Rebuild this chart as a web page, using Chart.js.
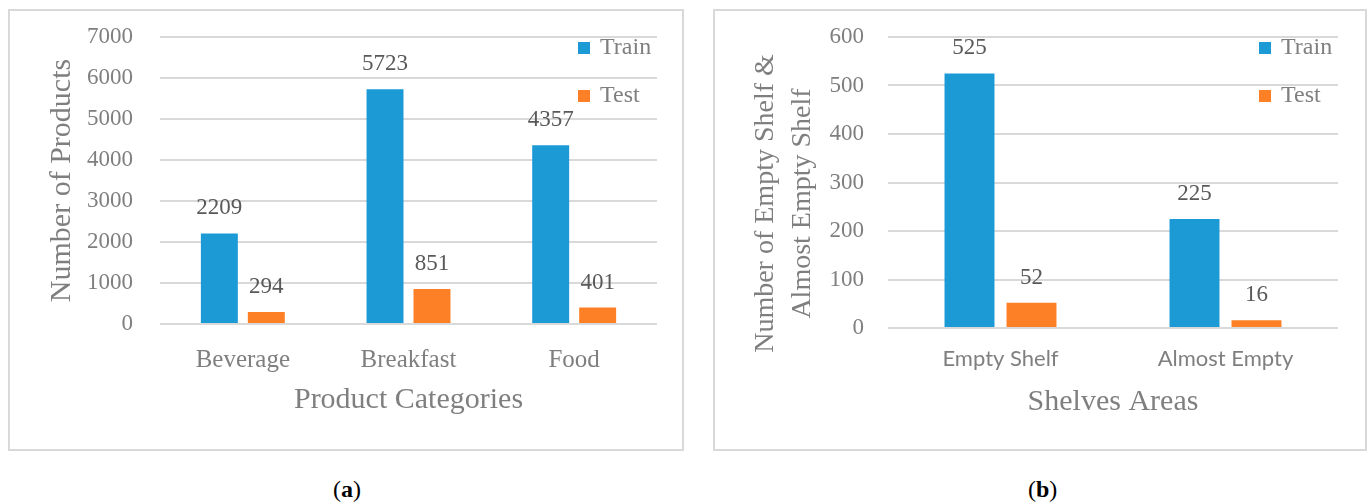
<!DOCTYPE html>
<html>
<head>
<meta charset="utf-8">
<script src="https://cdn.jsdelivr.net/npm/chart.js@4"></script>
<style>
body{margin:0;background:#fff;width:1368px;height:504px;position:relative;overflow:hidden;font-family:"Liberation Serif",serif;}
.box{position:absolute;top:9px;height:442px;border:2px solid #d9d9d9;box-sizing:border-box;}
.cap{position:absolute;top:476px;font-size:24px;color:#000;}
</style>
</head>
<body>
<div class="box" style="left:8px;width:676px"><canvas id="c1" width="672" height="438"></canvas></div>
<div class="box" style="left:713px;width:654px"><canvas id="c2" width="650" height="438"></canvas></div>
<div class="cap" style="left:333px">(<b>a</b>)</div>
<div class="cap" style="left:1028px">(<b>b</b>)</div>
<script>
// products per category
let productCats=["Beverage","Breakfast","Food"];
let productTrain=[2209,5723,4357];
let productTest=[294,851,401];
let productTicks=[0,1000,2000,3000,4000,5000,6000,7000];

// empty shelf counts per area
let shelfCats=["Empty Shelf","Almost Empty"];
let shelfTrain=[525,225];
let shelfTest=[52,16];
let shelfTicks=[0,100,200,300,400,500,600];

const BLUE="#1b9ad6";
const ORANGE="#fd7f26";
const GREY="#7f7f7f";
const SERIF="'Liberation Serif'";

// value printed over every bar
const barLabels={
id:"barLabels",
afterDatasetsDraw(chart){
const ctx=chart.ctx;
ctx.save();
ctx.font="23px "+SERIF;
ctx.fillStyle="#595959";
ctx.textAlign="center";
ctx.textBaseline="middle";
chart.data.datasets.forEach((ds,i)=>{
chart.getDatasetMeta(i).data.forEach((bar,j)=>{
ctx.fillText(ds.data[j],bar.x,bar.y-25);
});
});
ctx.restore();
}
};

// legend stacked in the top right corner of the plot
const cornerLegend={
id:"cornerLegend",
afterDraw(chart){
const {ctx,chartArea}=chart;
ctx.save();
ctx.font="24px "+SERIF;
ctx.textBaseline="middle";
ctx.textAlign="left";
chart.data.datasets.forEach((ds,i)=>{
let y=chartArea.top+5+i*48;
let x=chartArea.right-79;
ctx.fillStyle=ds.backgroundColor;
ctx.fillRect(x,y,12,12);
ctx.fillStyle=GREY;
ctx.fillText(ds.label,x+22,y+6);
});
ctx.restore();
}
};

function drawChart(id,cats,train,test,ticks,o){
new Chart(document.getElementById(id),{
type:"bar",
data:{
labels:cats,
datasets:[
{label:"Train",data:train,backgroundColor:BLUE,categoryPercentage:o.catPct,barPercentage:o.barPct},
{label:"Test",data:test,backgroundColor:ORANGE,categoryPercentage:o.catPct,barPercentage:o.barPct}
]
},
options:{
responsive:false,
animation:false,
devicePixelRatio:1,
layout:{padding:{top:26,right:o.right,left:0,bottom:0}},
plugins:{legend:{display:false},tooltip:{enabled:false}},
scales:{
x:{
grid:{display:false},
border:{display:false},
ticks:{color:GREY,font:o.catFont,padding:o.catPad},
title:{display:true,text:o.xTitle,color:GREY,font:{family:SERIF,size:30},padding:{bottom:o.xTitlePad}},
afterFit(s){s.height=o.xHeight;}
},
y:{
min:ticks[0],
max:ticks[ticks.length-1],
afterBuildTicks(s){s.ticks=ticks.map(v=>({value:v}));},
grid:{color:"#d9d9d9",lineWidth:2,drawTicks:false},
border:{display:false},
ticks:{color:GREY,font:{family:SERIF,size:23},padding:o.tickPad,callback:v=>String(v)},
title:{display:true,text:o.yTitle,color:GREY,font:{family:SERIF,size:o.ySize,lineHeight:o.yLine},padding:{top:o.yTitlePad}},
// fixed axis width; the label padding must not push the plot down
afterFit(s){s.width=o.yWidth;s.paddingTop=0;s.paddingBottom=0;}
}
}
},
plugins:[barLabels,cornerLegend]
});
}

drawChart("c1",productCats,productTrain,productTest,productTicks,{
catPct:0.567,barPct:0.787,right:25,yWidth:150,xHeight:125,tickPad:27,
yTitle:"Number of Products",ySize:30,yLine:1.2,yTitlePad:34,
xTitle:"Product Categories",xTitlePad:31,
catFont:{family:SERIF,size:25},catPad:13
});

drawChart("c2",shelfCats,shelfTrain,shelfTest,shelfTicks,{
catPct:0.551,barPct:0.806,right:27,yWidth:173,xHeight:121,tickPad:24,
yTitle:["Number of Empty Shelf &      ","Almost Empty Shelf      "],ySize:28,yLine:1.33,yTitlePad:32,
xTitle:"Shelves Areas",xTitlePad:29,
catFont:{family:"Lato",size:22},catPad:10
});
</script>
</body>
</html>
